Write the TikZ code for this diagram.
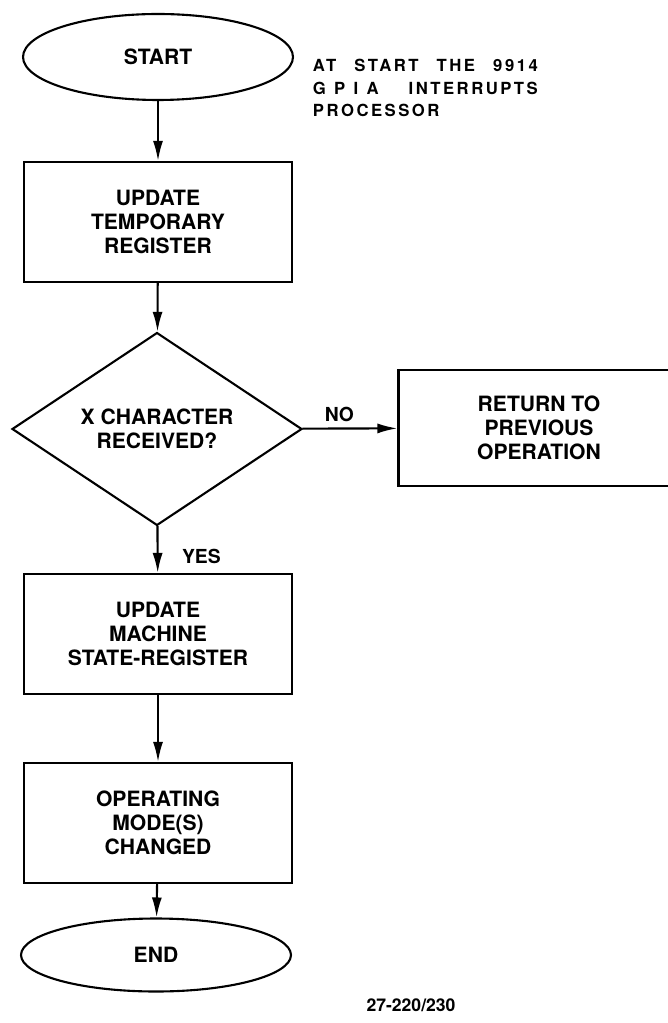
\documentclass[tikz,border=0pt]{standalone}
\usepackage{fontspec}
\setmainfont{TeX Gyre Heros}
\newfontfamily\spaziato[LetterSpace=15]{TeX Gyre Heros}
\usepackage{tikz}
\usetikzlibrary{arrows.meta,shapes.geometric}

\begin{document}
\begin{tikzpicture}[x=0.02cm,y=-0.02cm,>={Latex[length=4mm,width=2mm]},
		line width=1.2pt,
		testo/.style={font=\fontsize{12}{13.8}\selectfont\bfseries,align=center},
		blocco/.style={testo,draw,rectangle,minimum width=5.36cm,minimum height=2.4cm,inner sep=0pt},
		estremo/.style={testo,draw,ellipse,minimum width=5.4cm,inner sep=0pt},
		scelta/.style={testo,draw,diamond,minimum width=5.8cm,minimum height=3.36cm,inner sep=0pt},
		etichetta/.style={font=\fontsize{11}{13}\selectfont\bfseries}]
		\useasboundingbox (0,0) rectangle (668,1023);
		%\draw [help lines, step=50] (0,0) grid (668,1023);
		% Inizio
		\node [estremo, minimum height=1.72cm] (inizio) at (158,57) {START};
		\node [anchor=west, align=left, font=\fontsize{9.5}{13}\selectfont\spaziato\bfseries] (nota) at (306,88)
			{\makebox[4.5cm][s]{AT START THE 9914}\\ \makebox[4.5cm][s]{G\kern0.5em P\kern0.5em I\kern0.5em A INTERRUPTS}\\ PROCESSOR};
		% Registro temporaneo
		\node [blocco] (temp) at (158,222) {UPDATE\\TEMPORARY\\REGISTER};
		% Decisione
		\node [scelta] (decisione) at (157,429) {X CHARACTER\\RECEIVED?};
		% Ritorno
		\node [blocco, minimum width=5.62cm, minimum height=2.32cm] (ritorno) at (539,428) {RETURN TO\\PREVIOUS\\OPERATION};
		% Registro di stato
		\node [blocco] (stato) at (158,634) {UPDATE\\MACHINE\\STATE-REGISTER};
		% Modi
		\node [blocco] (modi) at (158,823) {OPERATING\\MODE(S)\\CHANGED};
		% Fine
		\node [estremo, minimum height=1.46cm] (fine) at (156,955) {END};
		\node [font=\fontsize{10}{12}\selectfont\bfseries] (codice) at (411,1005) {27-220/230};

		% Frecce
		\draw [->] (inizio) -- (temp);
		\draw [->] (temp) -- (decisione);
		\draw [->] (decisione) -- node [etichetta, above, xshift=-6] {NO} (ritorno);
		\draw [->] (decisione) -- node [etichetta, right, pos=0.65, xshift=0.35cm] {YES} (stato);
		\draw [->] (stato) -- (modi);
		\draw [->] (modi) -- (fine);
	\end{tikzpicture}
\end{document}
